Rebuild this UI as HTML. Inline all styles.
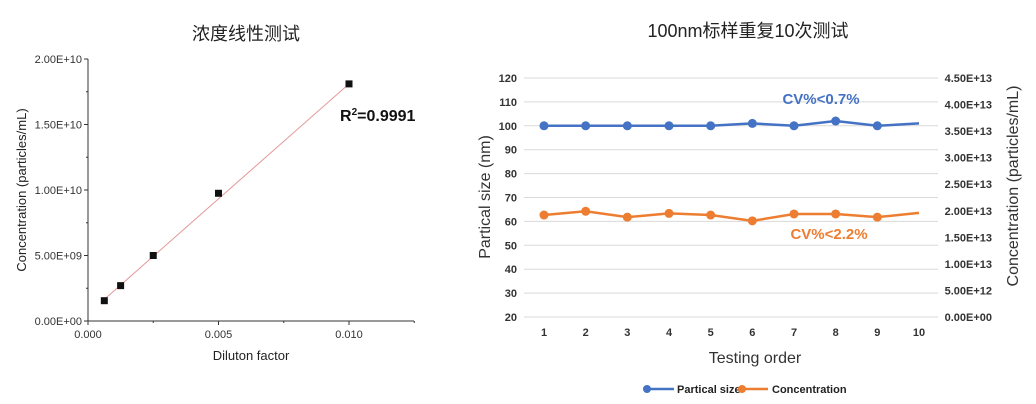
<!DOCTYPE html>
<html><head><meta charset="utf-8"><style>
body{margin:0;background:#fff;}
svg{display:block;font-family:"Liberation Sans","Noto Sans CJK SC",sans-serif;}
</style></head><body>
<svg id="s" width="1036" height="404" viewBox="0 0 1036 404">
<text x="246" y="40" font-size="18" text-anchor="middle" fill="#222">浓度线性测试</text>
<text x="748" y="37" font-size="18" text-anchor="middle" fill="#222">100nm标样重复10次测试</text>
<g id="L"></g>
<g id="R"></g>
</svg>
<script>
// Left chart data
const dilution = [0.000625, 0.00125, 0.0025, 0.005, 0.01];
const concentration = [1.55e9, 2.7e9, 5.0e9, 9.75e9, 1.81e10];
const fitLine = [[0.000625, 1.65e9], [0.01, 1.81e10]];
const leftXTicks = [0, 0.005, 0.01];
const leftXTickLabels = ["0.000", "0.005", "0.010"];
const leftYTicks = [0, 5e9, 1e10, 1.5e10, 2e10];
const leftYTickLabels = ["0.00E+00", "5.00E+09", "1.00E+10", "1.50E+10", "2.00E+10"];
// Right chart data
const order = [1,2,3,4,5,6,7,8,9,10];
const particleSize = [100,100,100,100,100,101,100,102,100,101];
const concRepeat = [1.92e13,1.99e13,1.88e13,1.95e13,1.92e13,1.81e13,1.94e13,1.94e13,1.88e13,1.96e13];
const sizeTicks = [20,30,40,50,60,70,80,90,100,110,120];
const concTicks = [0,5e12,1e13,1.5e13,2e13,2.5e13,3e13,3.5e13,4e13,4.5e13];
const concTickLabels = ["0.00E+00","5.00E+12","1.00E+13","1.50E+13","2.00E+13","2.50E+13","3.00E+13","3.50E+13","4.00E+13","4.50E+13"];

const NS="http://www.w3.org/2000/svg";
function mk(p,tag,at,txt){const e=document.createElementNS(NS,tag);for(const k in at)e.setAttribute(k,at[k]);if(txt!==undefined)e.textContent=txt;p.appendChild(e);return e;}

// Left
const L=document.getElementById('L');
const lx=v=>88+v/0.01*261, ly=v=>321-v/2e10*262;
let e;
e=mk(L,'line',{x1:88,y1:59,x2:88,y2:321,stroke:'#333','stroke-width':1});

e=mk(L,'line',{x1:88,y1:321,x2:414,y2:321,stroke:'#333','stroke-width':1});

for(let v=0;v<=2e10+1;v+=2.5e9){const y=ly(v);const major=Math.round(v/2.5e9)%2===0;mk(L,'line',{x1:major?84:86,y1:y,x2:88,y2:y,stroke:'#333'});}
leftYTicks.forEach((v,i)=>{e=mk(L,'text',{x:82,y:ly(v)+4,'font-size':11,'text-anchor':'end',fill:'#333'},leftYTickLabels[i]);
});
for(let v=0;v<=0.0125+1e-9;v+=0.0025){const x=lx(v);const major=Math.round(v/0.0025)%2===0;mk(L,'line',{x1:x,y1:321,x2:x,y2:major?325:323,stroke:'#333'});}
leftXTicks.forEach((v,i)=>{e=mk(L,'text',{x:lx(v),y:338,'font-size':11,'text-anchor':'middle',fill:'#333'},leftXTickLabels[i]);
});
e=mk(L,'text',{x:251,y:360,'font-size':13,'text-anchor':'middle',fill:'#222'},'Diluton factor');

e=mk(L,'text',{x:0,y:0,'font-size':13,'text-anchor':'middle',fill:'#222',transform:'translate(26,190) rotate(-90)'},'Concentration (particles/mL)');

e=mk(L,'line',{x1:lx(fitLine[0][0]),y1:ly(fitLine[0][1]),x2:lx(fitLine[1][0]),y2:ly(fitLine[1][1]),stroke:'#e39a9a','stroke-width':1});

dilution.forEach((d,i)=>{e=mk(L,'rect',{x:lx(d)-3.5,y:ly(concentration[i])-3.5,width:7,height:7,fill:'#111'});
});
e=mk(L,'text',{x:340,y:121,'font-size':16,'font-weight':'bold',fill:'#111'});
e.innerHTML='R<tspan dy="-6" font-size="10">2</tspan><tspan dy="6">=0.9991</tspan>';


// Right
const R=document.getElementById('R');
const rx=v=>544+(v-1)*(919-544)/9, ry=v=>317-(v-20)/100*239, ry2=v=>317-v/4.5e13*239;
sizeTicks.forEach(v=>{e=mk(R,'line',{x1:524,y1:ry(v),x2:938,y2:ry(v),stroke:'#d9d9d9','stroke-width':1});

e=mk(R,'text',{x:517,y:ry(v)+4,'font-size':11,'font-weight':'bold','text-anchor':'end',fill:'#333'},v);
});
concTicks.forEach((v,i)=>{e=mk(R,'text',{x:992,y:ry2(v)+4,'font-size':11,'font-weight':'bold','text-anchor':'end',fill:'#333'},concTickLabels[i]);
});
order.forEach(v=>{e=mk(R,'text',{x:rx(v),y:336,'font-size':11,'font-weight':'bold','text-anchor':'middle',fill:'#333'},v);
});
e=mk(R,'text',{x:755,y:363,'font-size':16,'text-anchor':'middle',fill:'#333'},'Testing order');

e=mk(R,'text',{x:0,y:0,'font-size':16,'text-anchor':'middle',fill:'#333',transform:'translate(490,197) rotate(-90)'},'Partical size  (nm)');

e=mk(R,'text',{x:0,y:0,'font-size':16,'text-anchor':'middle',fill:'#333',transform:'translate(1018,186) rotate(-90)'},'Concentration (particles/mL)');

e=mk(R,'polyline',{points:order.map((o,i)=>rx(o)+','+ry(particleSize[i])).join(' '),fill:'none',stroke:'#4472C4','stroke-width':2.5});

e=mk(R,'polyline',{points:order.map((o,i)=>rx(o)+','+ry2(concRepeat[i])).join(' '),fill:'none',stroke:'#ED7D31','stroke-width':2.5});

order.slice(0,9).forEach((o,i)=>{
e=mk(R,'circle',{cx:rx(o),cy:ry(particleSize[i]),r:4.5,fill:'#4472C4'});

e=mk(R,'circle',{cx:rx(o),cy:ry2(concRepeat[i]),r:4.5,fill:'#ED7D31'});
});
e=mk(R,'text',{x:821,y:104,'font-size':15,'font-weight':'bold','text-anchor':'middle',fill:'#4472C4'},'CV%<0.7%');

e=mk(R,'text',{x:829,y:239,'font-size':15,'font-weight':'bold','text-anchor':'middle',fill:'#ED7D31'},'CV%<2.2%');

// legend
e=mk(R,'g',{});
mk(e,'line',{x1:647,y1:389,x2:674,y2:389,stroke:'#4472C4','stroke-width':2.5});
mk(e,'circle',{cx:647,cy:389,r:4,fill:'#4472C4'});
mk(e,'text',{x:677,y:393,'font-size':11,'font-weight':'bold',fill:'#222'},'Partical size');
e=mk(R,'g',{});
mk(e,'line',{x1:742,y1:389,x2:768,y2:389,stroke:'#ED7D31','stroke-width':2.5});
mk(e,'circle',{cx:742,cy:389,r:4,fill:'#ED7D31'});
mk(e,'text',{x:772,y:393,'font-size':11,'font-weight':'bold',fill:'#222'},'Concentration');
</script>
</body></html>
